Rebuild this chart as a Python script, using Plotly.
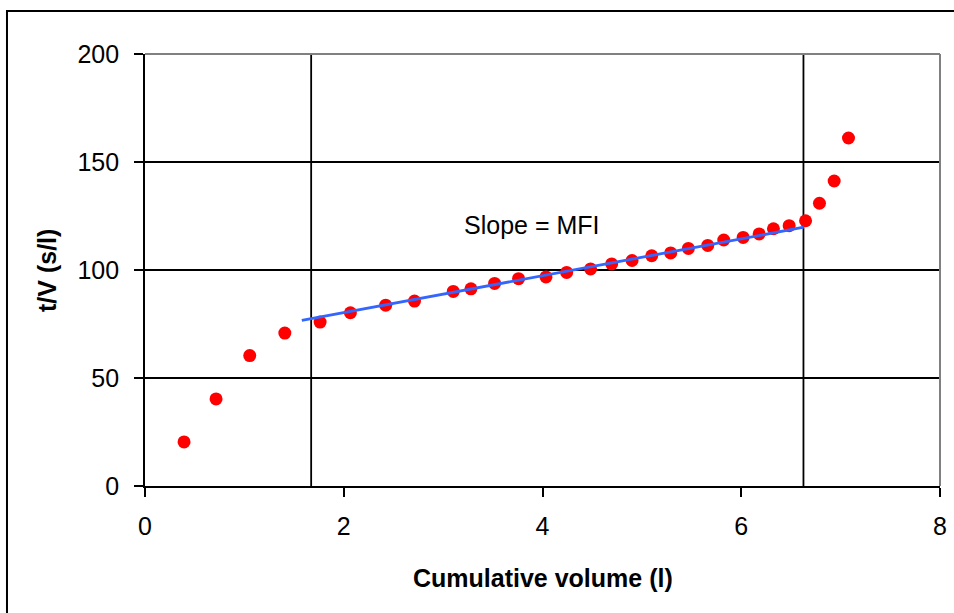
import plotly.graph_objects as go

# Cumulative filtrate volume (l) and t/V (s/l)
volume = [0.393, 0.715, 1.054, 1.407, 1.762, 2.067, 2.422, 2.712, 3.102, 3.280,
          3.518, 3.759, 4.035, 4.243, 4.484, 4.696, 4.901, 5.099, 5.290, 5.468,
          5.663, 5.824, 6.019, 6.180, 6.324, 6.482, 6.647, 6.787, 6.935, 7.079]
t_over_v = [20.4, 40.3, 60.4, 70.8, 75.9, 80.2, 83.7, 85.6, 90.1, 91.3,
            93.8, 96.0, 96.8, 98.9, 100.5, 102.8, 104.4, 106.6, 107.9, 110.0,
            111.4, 113.9, 115.1, 116.7, 119.1, 120.5, 122.8, 130.9, 141.2, 161.1]

# Linear (cake filtration) region boundaries and fitted line
region_x = [1.672, 6.626]
fit_x = [1.578, 6.630]
fit_y = [76.7, 119.8]

x_ticks = [0, 2, 4, 6, 8]
y_ticks = [0, 50, 100, 150, 200]

FONT = "Liberation Sans, Arial, sans-serif"
FS = 25

fig = go.Figure()

for xv in region_x:
    fig.add_trace(go.Scatter(x=[xv, xv], y=[0, 200], mode="lines",
                             line=dict(color="black", width=1.8),
                             hoverinfo="skip", showlegend=False))

fig.add_trace(go.Scatter(x=volume, y=t_over_v, mode="markers",
                         marker=dict(color="#ff0000", size=13),
                         showlegend=False))

fig.add_trace(go.Scatter(x=fit_x, y=fit_y, mode="lines",
                         line=dict(color="#3366ff", width=2.8),
                         showlegend=False))

fig.add_annotation(x=3.89, y=121, text="Slope = MFI", showarrow=False,
                   font=dict(family=FONT, size=FS, color="black"))

# axis titles
fig.add_annotation(xref="paper", yref="paper", x=0.5, y=-0.213,
                   text="<b>Cumulative volume (l)</b>", showarrow=False,
                   xanchor="center", yanchor="middle",
                   font=dict(family=FONT, size=FS, color="black"))
fig.add_annotation(xref="paper", yref="paper", x=-0.1233, y=0.5,
                   text="<b>t/V (s/l)</b>", showarrow=False, textangle=-90,
                   xanchor="center", yanchor="middle",
                   font=dict(family=FONT, size=FS, color="black"))

# plot-area border (top and right) in grey
fig.add_shape(type="line", xref="paper", yref="paper", x0=0, x1=1, y0=1, y1=1,
              line=dict(color="#808080", width=2))
fig.add_shape(type="line", xref="paper", yref="paper", x0=1, x1=1, y0=0, y1=1,
              line=dict(color="#808080", width=2))
# chart-area frame
fig.add_shape(type="rect", xref="paper", yref="paper",
              x0=-0.1736, x1=1.2, y0=-0.4, y1=1.0995,
              line=dict(color="black", width=2), fillcolor="rgba(0,0,0,0)")

fig.update_layout(
    width=954, height=613,
    margin=dict(l=145, r=14, t=54, b=127, autoexpand=False),
    paper_bgcolor="white", plot_bgcolor="white",
    font=dict(family=FONT, size=FS, color="black"),
    showlegend=False,
)

fig.update_xaxes(
    range=[0, 8], tickvals=x_ticks, ticks="outside", ticklen=9, tickwidth=1.8,
    tickcolor="black", showline=True, linecolor="black", linewidth=1.8,
    showgrid=False, zeroline=False, automargin=False, ticklabelstandoff=8,
    tickfont=dict(family=FONT, size=FS, color="black"),
)
fig.update_yaxes(
    range=[0, 200], tickvals=y_ticks, ticks="outside", ticklen=9, tickwidth=1.8,
    tickcolor="black", showline=True, linecolor="black", linewidth=1.8,
    showgrid=True, gridcolor="black", gridwidth=1.8, zeroline=False,
    automargin=False, ticklabelstandoff=10,
    tickfont=dict(family=FONT, size=FS, color="black"),
)

fig.write_html("out.html")
